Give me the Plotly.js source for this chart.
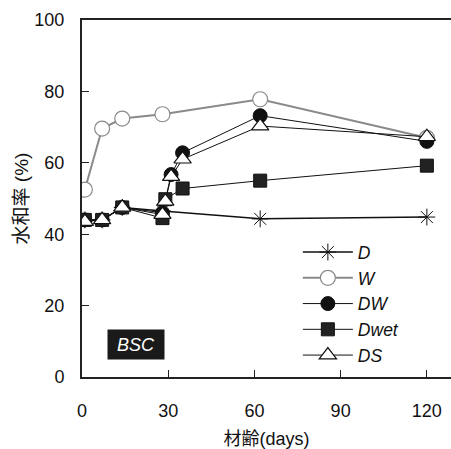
<!DOCTYPE html>
<html>
<head>
<meta charset="utf-8">
<script src="https://cdn.plot.ly/plotly-3.0.1.min.js"></script>
<style>html,body{margin:0;padding:0;background:#fff;}#chart{width:451px;height:449px;}</style>
</head>
<body>
<div id="chart"></div>
<script>
// Data
const seriesNames = ["D", "W", "DW", "Dwet", "DS"];
const dDays  = [1, 7, 14, 28, 62, 120];
const dVals  = [44, 44, 47.5, 46.5, 44.3, 44.8];
const wDays  = [1, 7, 14, 28, 62, 120];
const wVals  = [52.5, 69.6, 72.4, 73.6, 77.8, 67.0];
const dwDays = [1, 7, 14, 28, 31, 35, 62, 120];
const dwVals = [44, 44, 47.5, 46, 56.7, 62.8, 73.2, 66.0];
const dwetDays = [1, 7, 14, 28, 29, 35, 62, 120];
const dwetVals = [44, 44, 47.5, 44.5, 49.8, 52.8, 55.0, 59.2];
const dsDays = [1, 7, 14, 28, 29, 31, 35, 62, 120];
const dsVals = [43.5, 44, 47.5, 45.5, 49.2, 56.1, 61.0, 70.3, 67.3];
const xTicks = [0, 30, 60, 90, 120];
const yTicks = [0, 20, 40, 60, 80, 100];
const xTitle = "材齢(days)";
const yTitle = "水和率 (%)";
const panelLabel = "BSC";

const FONT = "Liberation Sans, Arial, Noto Sans CJK JP, sans-serif";

const traces = [
  {x: dDays, y: dVals, name: seriesNames[0], mode: "lines+markers",
   line: {color: "#111", width: 1.5},
   marker: {symbol: "asterisk-open", size: 14, color: "#111", line: {color: "#111", width: 1}}},
  {x: wDays, y: wVals, name: seriesNames[1], mode: "lines+markers",
   line: {color: "#8a8a8a", width: 2},
   marker: {symbol: "circle", size: 15, color: "#fff", line: {color: "#8a8a8a", width: 1.2}}},
  {x: dwDays, y: dwVals, name: seriesNames[2], mode: "lines+markers",
   line: {color: "#111", width: 1},
   marker: {symbol: "circle", size: 14, color: "#111", line: {color: "#111", width: 1}}},
  {x: dwetDays, y: dwetVals, name: seriesNames[3], mode: "lines+markers",
   line: {color: "#111", width: 1},
   marker: {symbol: "square", size: 13, color: "#222", line: {color: "#111", width: 1}}},
  {x: dsDays, y: dsVals, name: seriesNames[4], mode: "lines+markers",
   line: {color: "#111", width: 1},
   marker: {symbol: "triangle-up", size: 15, color: "#fff", line: {color: "#111", width: 1.2}}}
];

const layout = {
  width: 451, height: 449,
  margin: {l: 82, r: 0, t: 20, b: 72},
  paper_bgcolor: "#fff", plot_bgcolor: "#fff",
  font: {family: FONT, size: 18, color: "#111"},
  showlegend: true,
  legend: {x: 0.585, xanchor: "left", y: 0.40, yanchor: "top",
           bgcolor: "rgba(0,0,0,0)", itemwidth: 50,
           font: {family: FONT, size: 17.5, color: "#111", style: "italic"},
           tracegroupgap: 0},
  xaxis: {range: [0, 128.4], tickvals: xTicks, ticktext: xTicks.map(String),
          showgrid: false, zeroline: false, showline: true, linecolor: "#222", linewidth: 2,
          mirror: true, ticks: "inside", ticklen: 7, tickcolor: "#222",
          ticklabelstandoff: 16,
          tickfont: {family: FONT, size: 18, color: "#111"},
          title: {text: xTitle, standoff: 21, font: {family: FONT, size: 18, color: "#111"}}},
  yaxis: {range: [0, 100], tickvals: yTicks, ticktext: yTicks.map(String),
          showgrid: false, zeroline: false, showline: true, linecolor: "#222", linewidth: 2,
          mirror: false, ticks: "inside", ticklen: 7, tickcolor: "#222",
          ticklabelstandoff: 12,
          tickfont: {family: FONT, size: 18, color: "#111"},
          title: {text: yTitle, standoff: 1, font: {family: FONT, size: 19, color: "#111"}}},
  annotations: [{
    xref: "paper", yref: "paper", x: 0.145, y: 0.09, xanchor: "center", yanchor: "middle",
    text: panelLabel, showarrow: false, bgcolor: "#1a1a1a", width: 54, height: 27,
    borderpad: 1, font: {family: FONT, size: 18, color: "#fff", style: "italic"}
  }]
};

Plotly.newPlot("chart", traces, layout, {displayModeBar: false, staticPlot: true});
</script>
</body>
</html>
